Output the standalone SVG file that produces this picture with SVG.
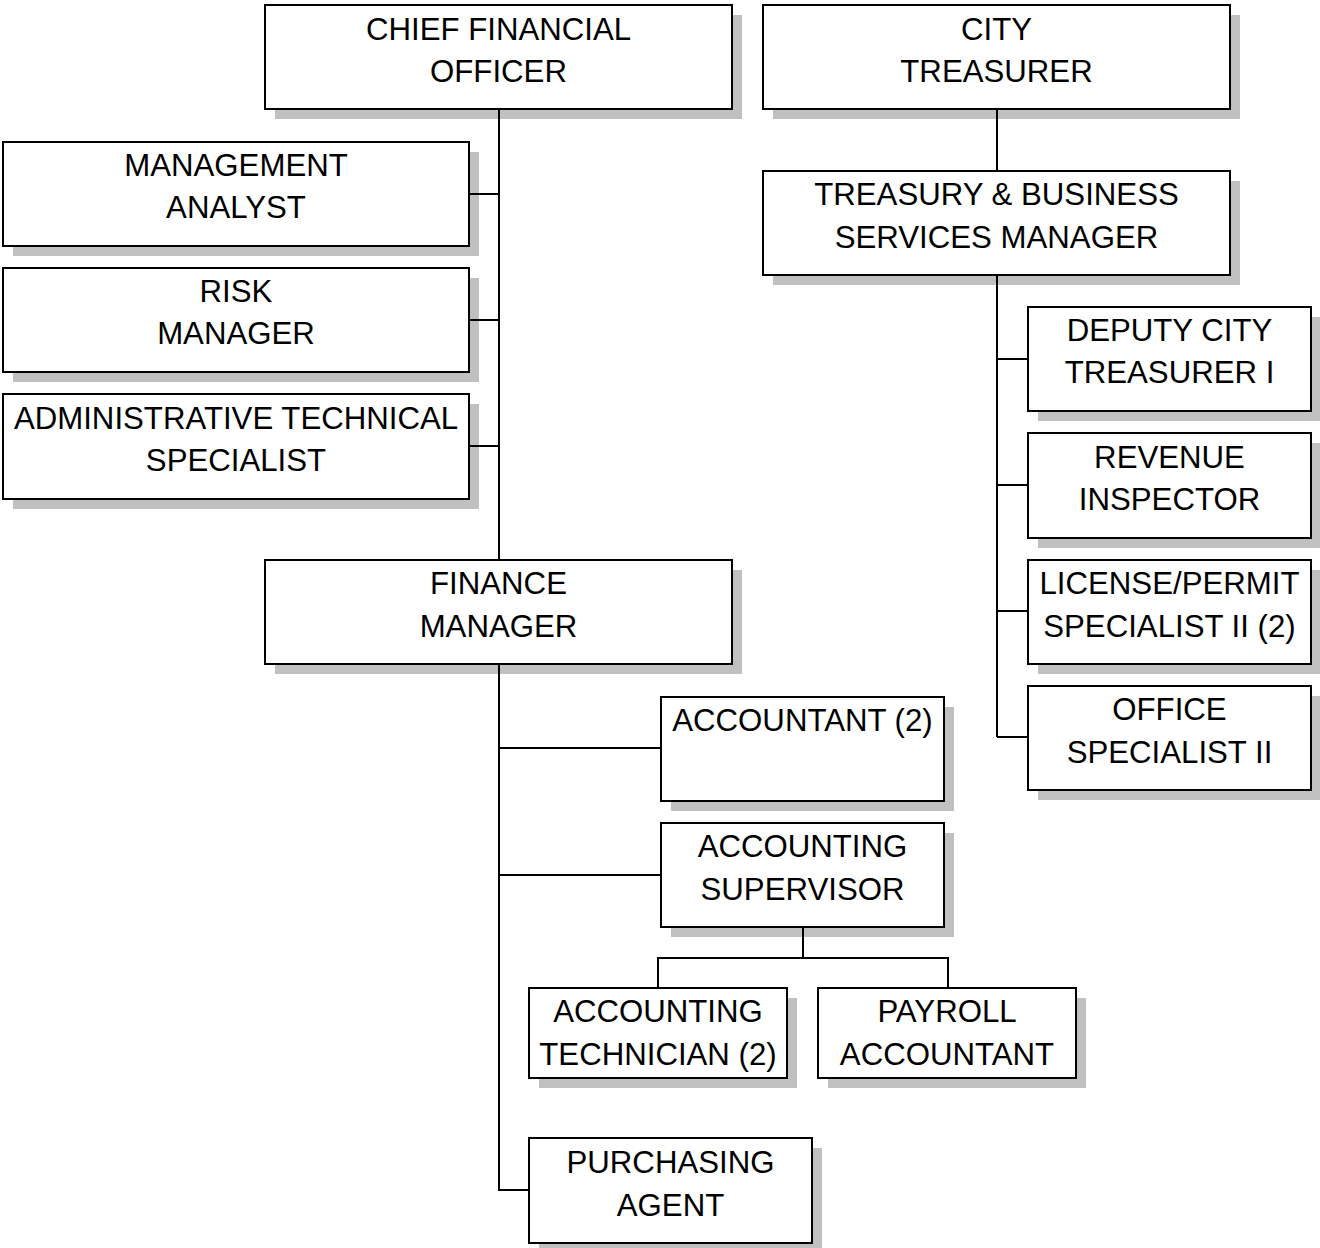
<svg xmlns="http://www.w3.org/2000/svg" width="1320" height="1248" viewBox="0 0 1320 1248">
  <style>
    .shadow { fill: #c0c0c0; }
    .box { fill: #ffffff; stroke: #000000; stroke-width: 2; }
    .lbl { font-family: "Liberation Sans", Arial, sans-serif; font-size: 31.2px; fill: #000000; text-anchor: middle; }
    .wire { fill: none; stroke: #000000; stroke-width: 2; }
  </style>
  <rect width="1320" height="1248" fill="#ffffff"/>

  <g id="cfo">
    <rect class="shadow" x="275" y="15" width="467" height="104"/>
    <rect class="box" x="265" y="5" width="467" height="104"/>
    <text class="lbl" x="498.5" y="40">CHIEF FINANCIAL</text>
    <text class="lbl" x="498.5" y="82">OFFICER</text>
  </g>

  <g id="city-treasurer">
    <rect class="shadow" x="773" y="15" width="467" height="104"/>
    <rect class="box" x="763" y="5" width="467" height="104"/>
    <text class="lbl" x="996.5" y="40">CITY</text>
    <text class="lbl" x="996.5" y="82">TREASURER</text>
  </g>

  <g id="management-analyst">
    <rect class="shadow" x="13" y="152" width="466" height="104"/>
    <rect class="box" x="3" y="142" width="466" height="104"/>
    <text class="lbl" x="236" y="176">MANAGEMENT</text>
    <text class="lbl" x="236" y="218">ANALYST</text>
  </g>

  <g id="risk-manager">
    <rect class="shadow" x="13" y="278" width="466" height="104"/>
    <rect class="box" x="3" y="268" width="466" height="104"/>
    <text class="lbl" x="236" y="302">RISK</text>
    <text class="lbl" x="236" y="344">MANAGER</text>
  </g>

  <g id="admin-tech-specialist">
    <rect class="shadow" x="13" y="404" width="466" height="105"/>
    <rect class="box" x="3" y="394" width="466" height="105"/>
    <text class="lbl" x="236" y="429">ADMINISTRATIVE TECHNICAL</text>
    <text class="lbl" x="236" y="471">SPECIALIST</text>
  </g>

  <g id="finance-manager">
    <rect class="shadow" x="275" y="570" width="467" height="104"/>
    <rect class="box" x="265" y="560" width="467" height="104"/>
    <text class="lbl" x="498.5" y="594">FINANCE</text>
    <text class="lbl" x="498.5" y="637">MANAGER</text>
  </g>

  <g id="treasury-business-manager">
    <rect class="shadow" x="773" y="181" width="467" height="104"/>
    <rect class="box" x="763" y="171" width="467" height="104"/>
    <text class="lbl" x="996.5" y="205">TREASURY &amp; BUSINESS</text>
    <text class="lbl" x="996.5" y="248">SERVICES MANAGER</text>
  </g>

  <g id="deputy-city-treasurer">
    <rect class="shadow" x="1038" y="317" width="283" height="104"/>
    <rect class="box" x="1028" y="307" width="283" height="104"/>
    <text class="lbl" x="1169.5" y="341">DEPUTY CITY</text>
    <text class="lbl" x="1169.5" y="383">TREASURER I</text>
  </g>

  <g id="revenue-inspector">
    <rect class="shadow" x="1038" y="443" width="283" height="105"/>
    <rect class="box" x="1028" y="433" width="283" height="105"/>
    <text class="lbl" x="1169.5" y="468">REVENUE</text>
    <text class="lbl" x="1169.5" y="510">INSPECTOR</text>
  </g>

  <g id="license-permit-specialist">
    <rect class="shadow" x="1038" y="570" width="283" height="104"/>
    <rect class="box" x="1028" y="560" width="283" height="104"/>
    <text class="lbl" x="1169.5" y="594">LICENSE/PERMIT</text>
    <text class="lbl" x="1169.5" y="637">SPECIALIST II (2)</text>
  </g>

  <g id="office-specialist">
    <rect class="shadow" x="1038" y="696" width="283" height="104"/>
    <rect class="box" x="1028" y="686" width="283" height="104"/>
    <text class="lbl" x="1169.5" y="720">OFFICE</text>
    <text class="lbl" x="1169.5" y="763">SPECIALIST II</text>
  </g>

  <g id="accountant">
    <rect class="shadow" x="671" y="707" width="283" height="104"/>
    <rect class="box" x="661" y="697" width="283" height="104"/>
    <text class="lbl" x="802.5" y="731">ACCOUNTANT (2)</text>
  </g>

  <g id="accounting-supervisor">
    <rect class="shadow" x="671" y="833" width="283" height="104"/>
    <rect class="box" x="661" y="823" width="283" height="104"/>
    <text class="lbl" x="802.5" y="857">ACCOUNTING</text>
    <text class="lbl" x="802.5" y="900">SUPERVISOR</text>
  </g>

  <g id="accounting-technician">
    <rect class="shadow" x="539" y="998" width="258" height="90"/>
    <rect class="box" x="529" y="988" width="258" height="90"/>
    <text class="lbl" x="658" y="1022">ACCOUNTING</text>
    <text class="lbl" x="658" y="1065">TECHNICIAN (2)</text>
  </g>

  <g id="payroll-accountant">
    <rect class="shadow" x="828" y="998" width="258" height="90"/>
    <rect class="box" x="818" y="988" width="258" height="90"/>
    <text class="lbl" x="947" y="1022">PAYROLL</text>
    <text class="lbl" x="947" y="1065">ACCOUNTANT</text>
  </g>

  <g id="purchasing-agent">
    <rect class="shadow" x="539" y="1148" width="283" height="105"/>
    <rect class="box" x="529" y="1138" width="283" height="105"/>
    <text class="lbl" x="670.5" y="1173">PURCHASING</text>
    <text class="lbl" x="670.5" y="1216">AGENT</text>
  </g>

  <!-- connectors, drawn over the drop shadows -->
  <g id="connectors" class="wire">
    <path d="M499 109 V560 M469 194 H499 M469 320 H499 M469 446 H499"/>
    <path d="M997 109 V171"/>
    <path d="M997 275 V737 M997 359 H1028 M997 485 H1028 M997 611 H1028 M997 737 H1028"/>
    <path d="M499 664 V1190 H529 M499 748 H661 M499 875 H661"/>
    <path d="M803 927 V958 M658 988 V958 H948 V988"/>
  </g>
</svg>
